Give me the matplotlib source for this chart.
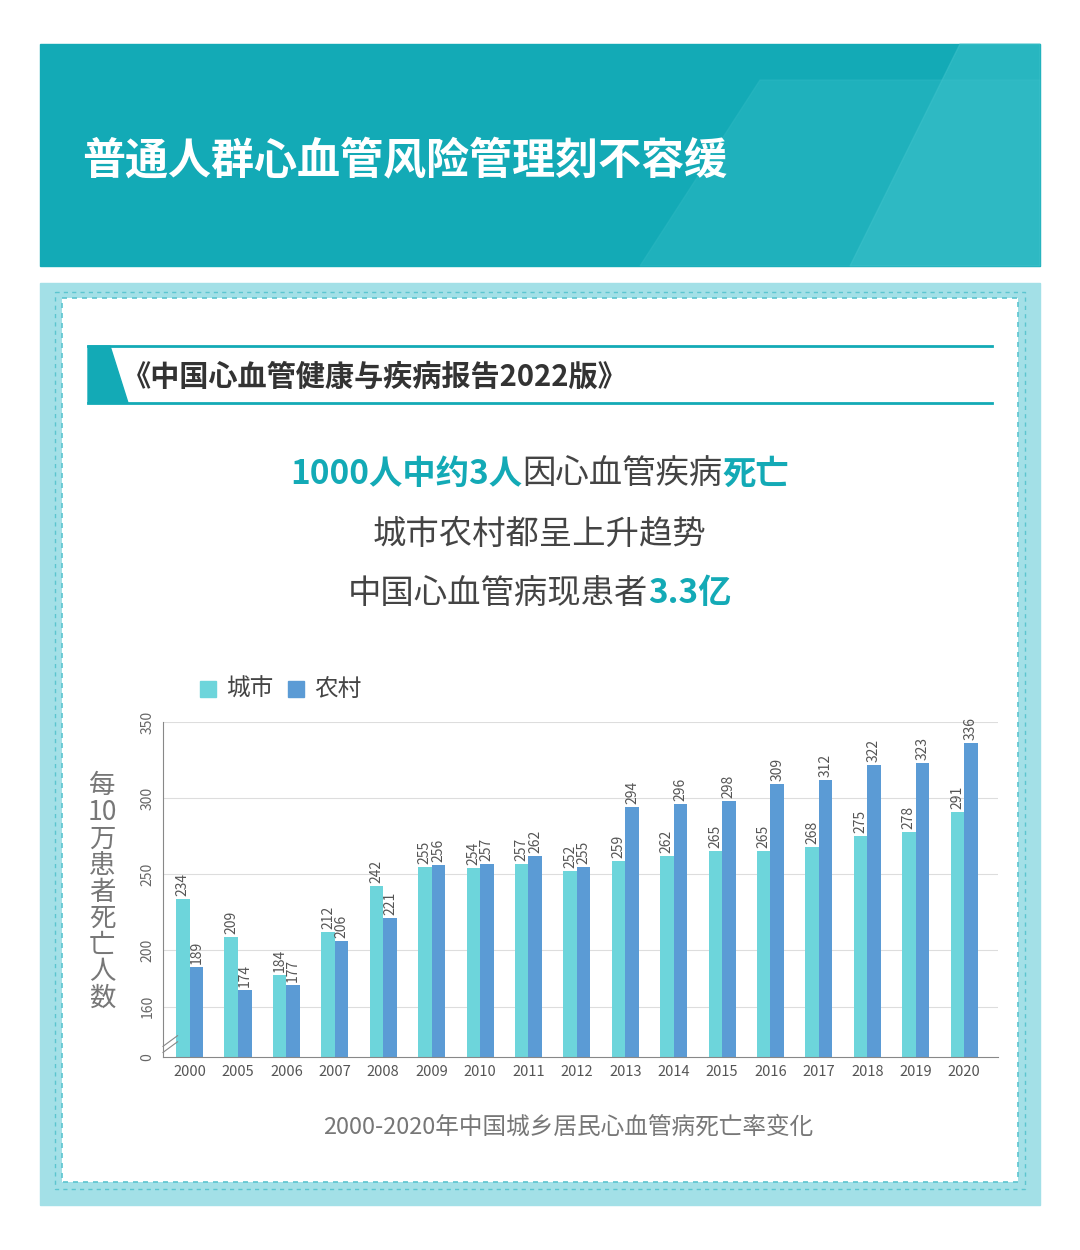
import matplotlib
matplotlib.use("Agg")
import matplotlib.pyplot as plt
from matplotlib import font_manager as fm
from matplotlib.patches import Rectangle, Polygon
import numpy as np

cands = [f.name for f in fm.fontManager.ttflist if 'CJK' in f.name]
pref = [n for n in ['Noto Sans CJK SC', 'Noto Sans CJK JP', 'Noto Sans CJK TC', 'Noto Sans CJK KR'] if n in cands]
FONT = pref[0] if pref else (cands[0] if cands else 'DejaVu Sans')
plt.rcParams['font.family'] = [FONT, 'DejaVu Sans']

years = ['2000','2005','2006','2007','2008','2009','2010','2011','2012','2013','2014','2015','2016','2017','2018','2019','2020']
city = [234,209,184,212,242,255,254,257,252,259,262,265,265,268,275,278,291]
rural = [189,174,177,206,221,256,257,262,255,294,296,298,309,312,322,323,336]
yticks = [130,163,200,250,300,350]
ytick_labels = ['0','160','200','250','300','350']

W, H = 1080, 1250
fig = plt.figure(figsize=(10.8, 12.5), dpi=100)
bg = fig.add_axes([0, 0, 1, 1])
bg.set_xlim(0, W); bg.set_ylim(H, 0); bg.axis('off')
renderer = fig.canvas.get_renderer()

def segs(y, parts, fs=24):
    # parts: list of (text, color, bold); centered on 540
    ts = []
    for t, c, b in parts:
        ts.append(bg.text(0, y, t, fontsize=fs, color=c, fontweight='bold' if b else 'normal', va='center'))
    widths = [tt.get_window_extent(renderer).width for tt in ts]
    x = 540 - sum(widths) / 2
    for tt, w in zip(ts, widths):
        tt.set_x(x); x += w

TEAL = '#13aab6'
GREY = '#444444'
bg.add_patch(Rectangle((40, 44), 1000, 222, color=TEAL))
bg.add_patch(Polygon([[640, 266], [760, 80], [1040, 80], [1040, 266]], color='#2cb8c2', alpha=0.5))
bg.add_patch(Polygon([[850, 266], [960, 44], [1040, 44], [1040, 266]], color='#3ec2cb', alpha=0.5))
bg.text(82, 160, '普通人群心血管风险管理刻不容缓', color='white', fontsize=31, fontweight='bold', va='center')

bg.add_patch(Rectangle((40, 283), 1000, 922, color='#a3e0e7'))
bg.add_patch(Rectangle((62, 298), 956, 884, facecolor='white', edgecolor='#5cc5cf', lw=1.2, ls=(0, (3, 3))))
bg.add_patch(Rectangle((55, 292), 970, 897, facecolor='none', edgecolor='#5cc5cf', lw=1, ls=(0, (3, 3))))

bg.plot([88, 992], [346, 346], color=TEAL, lw=2)
bg.plot([88, 992], [403, 403], color=TEAL, lw=2)
bg.add_patch(Polygon([[88, 346], [110, 346], [128, 403], [88, 403]], color=TEAL))
bg.text(122, 377, '《中国心血管健康与疾病报告2022版》', fontsize=21, fontweight='bold', color='#333333', va='center')

segs(474, [('1000人中约3人', TEAL, True), ('因心血管疾病', GREY, False), ('死亡', TEAL, True)])
segs(534, [('城市农村都呈上升趋势', GREY, False)])
segs(594, [('中国心血管病现患者', GREY, False), ('3.3亿', TEAL, True)])

bg.add_patch(Rectangle((200, 681), 16, 16, color='#6dd5db'))
bg.text(226, 689, '城市', fontsize=17, color=GREY, va='center')
bg.add_patch(Rectangle((288, 681), 16, 16, color='#5b9bd5'))
bg.text(314, 689, '农村', fontsize=17, color=GREY, va='center')
bg.text(102, 892, '每\n10\n万\n患\n者\n死\n亡\n人\n数', fontsize=19, color='#777777', ha='center', va='center', linespacing=0.98)
bg.text(568, 1127, '2000-2020年中国城乡居民心血管病死亡率变化', fontsize=17, color='#777777', ha='center', va='center')

ax = fig.add_axes([163 / W, 1 - 1057 / H, (998 - 163) / W, (1057 - 722) / H])
x = np.arange(len(years))
bw = 0.28
base = 130
ax.bar(x - bw / 2, np.array(city) - base, bw, bottom=base, color='#6dd5db')
ax.bar(x + bw / 2, np.array(rural) - base, bw, bottom=base, color='#5b9bd5')
for i in range(len(years)):
    ax.text(x[i] - bw / 2, city[i] + 2, str(city[i]), rotation=90, ha='center', va='bottom', fontsize=10, color='#555555')
    ax.text(x[i] + bw / 2, rural[i] + 2, str(rural[i]), rotation=90, ha='center', va='bottom', fontsize=10, color='#555555')
ax.set_xlim(-0.55, len(years) - 0.3)
ax.set_ylim(base, 350)
ax.set_yticks(yticks)
ax.set_yticklabels(ytick_labels, rotation=90, va='center', fontsize=10, color='#666666')
ax.set_xticks(x)
ax.set_xticklabels(years, fontsize=10.5, color='#555555')
ax.tick_params(length=0, pad=6)
for v in yticks[1:]:
    ax.axhline(v, color='#dddddd', lw=0.8, zorder=0)
for s in ['top', 'right']:
    ax.spines[s].set_visible(False)
for s in ['left', 'bottom']:
    ax.spines[s].set_color('#888888')
ax.set_axisbelow(True)
for dy in (0, 4):
    ax.plot([-0.55, -0.25], [133 + dy, 140 + dy], color='#888888', lw=0.8, clip_on=False)

fig.savefig('out.png', dpi=100)
